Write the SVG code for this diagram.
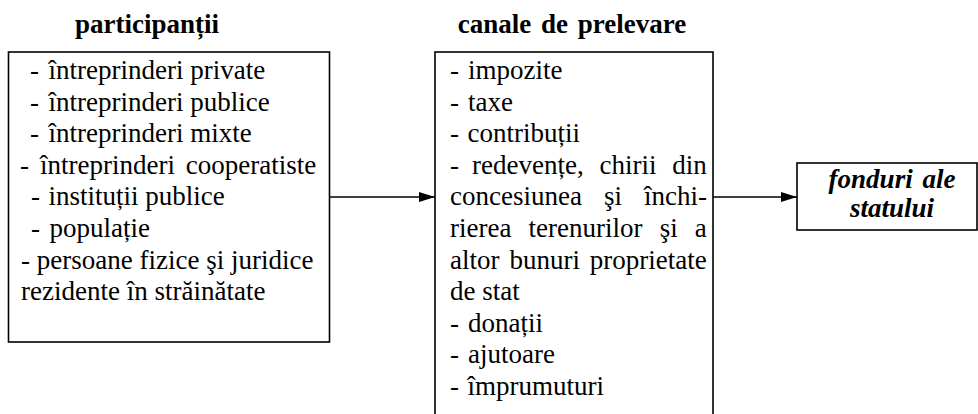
<svg xmlns="http://www.w3.org/2000/svg" width="978" height="414" viewBox="0 0 978 414">
<defs>
<style>
.box{fill:#fff;stroke:#000;stroke-width:1.6}
.t{font-family:"Liberation Serif","Times New Roman",serif;font-size:27px;fill:#000}
.h{font-family:"Liberation Serif","Times New Roman",serif;font-size:27px;font-weight:bold;fill:#000}
.hi{font-family:"Liberation Serif","Times New Roman",serif;font-size:27px;font-weight:bold;font-style:italic;fill:#000}
.c{stroke:#000;stroke-width:1.6;fill:none}
</style>
<marker id="ah" viewBox="0 0 16 10" refX="16" refY="5" markerWidth="16" markerHeight="10" markerUnits="userSpaceOnUse" orient="auto">
<path d="M0,0 L16,5 L0,10 Z" fill="#000"/>
</marker>
</defs>
<rect width="978" height="414" fill="#fff"/>
<text class="h" x="147" y="33" text-anchor="middle">participanții</text>
<text class="h" x="572" y="33" text-anchor="middle" word-spacing="3">canale de prelevare</text>
<g id="participanti">
<rect class="box" x="8.5" y="52" width="321" height="290"/>
<text class="t" y="79"><tspan x="30">-</tspan><tspan x="48.5">întreprinderi private</tspan></text>
<text class="t" y="110.6"><tspan x="30">-</tspan><tspan x="48.5">întreprinderi publice</tspan></text>
<text class="t" y="142.2"><tspan x="30">-</tspan><tspan x="48.5">întreprinderi mixte</tspan></text>
<text class="t" y="173.8" word-spacing="4"><tspan x="20">-</tspan><tspan x="40">întreprinderi cooperatiste</tspan></text>
<text class="t" y="205.4"><tspan x="31">-</tspan><tspan x="48.5">instituții publice</tspan></text>
<text class="t" y="237"><tspan x="31">-</tspan><tspan x="49.5">populație</tspan></text>
<text class="t" x="21" y="268.6">- persoane fizice şi juridice</text>
<text class="t" x="21" y="300.2">rezidente în străinătate</text>
</g>
<g id="canale">
<rect class="box" x="435" y="52" width="278" height="370"/>
<text class="t" y="79"><tspan x="450">-</tspan><tspan x="468">impozite</tspan></text>
<text class="t" y="110.6"><tspan x="450">-</tspan><tspan x="468">taxe</tspan></text>
<text class="t" y="142.2"><tspan x="450">-</tspan><tspan x="467.5">contribuții</tspan></text>
<text class="t" y="173.8" word-spacing="9.1"><tspan x="450">-</tspan><tspan x="472">redevențe, chirii din</tspan></text>
<text class="t" x="450" y="205.4" word-spacing="15.3">concesiunea şi închi-</text>
<text class="t" x="450" y="237" word-spacing="10.4">rierea terenurilor şi a</text>
<text class="t" x="450" y="268.6" word-spacing="3.2">altor bunuri proprietate</text>
<text class="t" x="450" y="300.2">de stat</text>
<text class="t" y="331.8"><tspan x="450">-</tspan><tspan x="468">donații</tspan></text>
<text class="t" y="363.4"><tspan x="450">-</tspan><tspan x="468">ajutoare</tspan></text>
<text class="t" y="395"><tspan x="450">-</tspan><tspan x="467.5">împrumuturi</tspan></text>
</g>
<g id="fonduri">
<rect class="box" x="797" y="163" width="180" height="67"/>
<text class="hi" x="892" y="188" text-anchor="middle" word-spacing="3">fonduri ale</text>
<text class="hi" x="892" y="217" text-anchor="middle">statului</text>
</g>
<g id="connectors">
<line class="c" x1="330" y1="197" x2="435" y2="197" marker-end="url(#ah)"/>
<line class="c" x1="713" y1="197" x2="797" y2="197" marker-end="url(#ah)"/>
</g>
</svg>
